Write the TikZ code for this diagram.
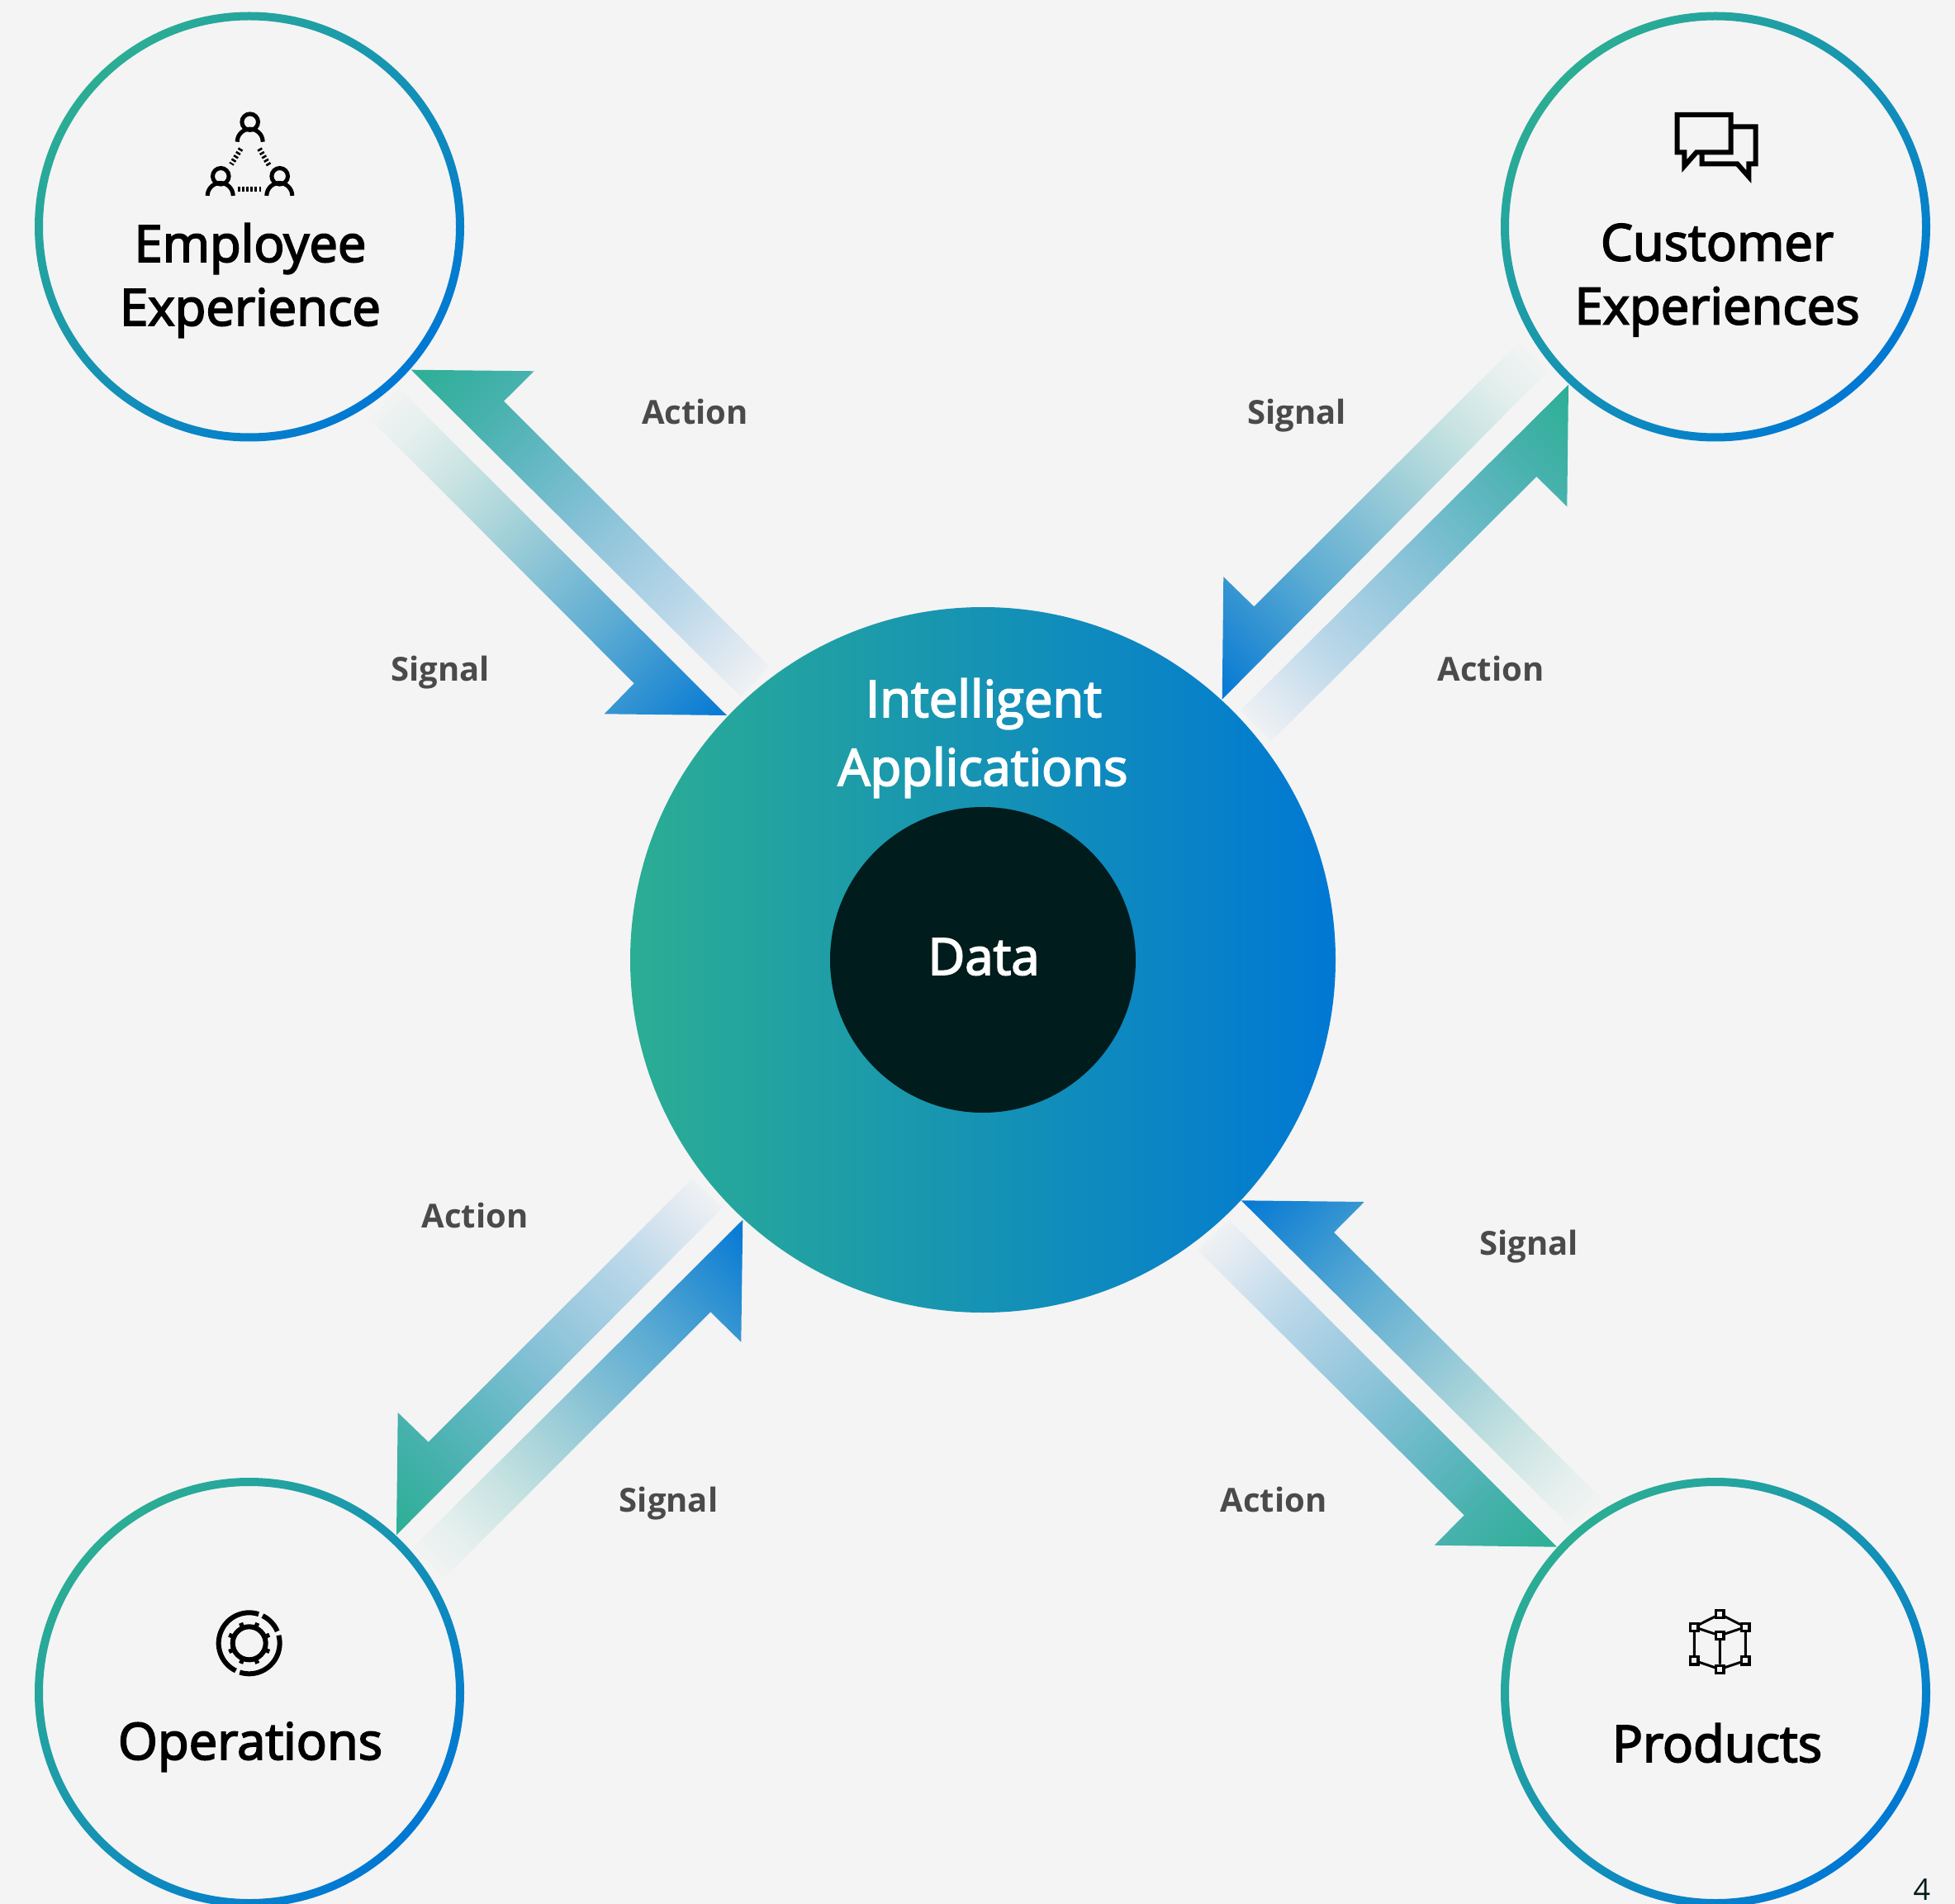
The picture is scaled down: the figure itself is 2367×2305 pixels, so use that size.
\documentclass[tikz,border=0pt]{standalone}
\usepackage{fontspec}
\setmainfont{Open Sans}
\font\headface="Open Sans:embolden=3" at 30.8pt
\newfontfamily\labelfont{Open Sans}
\newfontfamily\pagefont{Open Sans}
\usetikzlibrary{shadings}
\definecolor{bgc}{HTML}{F4F4F4}
\definecolor{gA}{HTML}{2BAD94}
\definecolor{bA}{HTML}{0078D4}
\definecolor{inkc}{HTML}{011C1C}
\definecolor{labc}{HTML}{4A4A4A}
\definecolor{sa}{HTML}{F4F4F4}\definecolor{sb}{HTML}{E6F0EE}\definecolor{sc}{HTML}{C8E3E2}
\definecolor{sd}{HTML}{A5D2D9}\definecolor{se}{HTML}{82BFD5}\definecolor{sf}{HTML}{5BABD3}
\definecolor{sg}{HTML}{3293D2}\definecolor{sh}{HTML}{0A7BD4}
\definecolor{aa}{HTML}{2FAF98}\definecolor{ab}{HTML}{45B1AB}\definecolor{ac}{HTML}{60B7C1}
\definecolor{ad}{HTML}{82C0D5}\definecolor{ae}{HTML}{9FCBE0}\definecolor{af}{HTML}{BBD8E9}
\definecolor{ag}{HTML}{DEE8F1}\definecolor{ah}{HTML}{F4F4F4}
\pgfdeclarehorizontalshading{sigshade}{100bp}{color(0bp)=(sa);color(16bp)=(sa);color(23bp)=(sb);color(33bp)=(sc);color(43bp)=(sd);color(53bp)=(se);color(64bp)=(sf);color(74bp)=(sg);color(84bp)=(sh);color(100bp)=(sh)}
\pgfdeclarehorizontalshading{actshade}{100bp}{color(0bp)=(aa);color(16bp)=(aa);color(26bp)=(ab);color(36bp)=(ac);color(47bp)=(ad);color(57bp)=(ae);color(67bp)=(af);color(77bp)=(ag);color(84bp)=(ah);color(100bp)=(ah)}
\tikzset{
  headtext/.style={anchor=base,inner sep=0pt,font=\headface,text=black},
  centertext/.style={headtext,text=white},
  flowtext/.style={anchor=base,inner sep=0pt,font=\fontsize{20}{20}\selectfont\labelfont\bfseries,text=labc},
  iconline/.style={draw=black,line width=2.5pt,line cap=butt,line join=miter,miter limit=10},
  heavyicon/.style={iconline,line width=3pt},
  dots/.style={draw=black,line width=3pt,dash pattern=on 1.3pt off 1.25pt},
  thinicon/.style={draw=black,line width=1.5pt},
  vertex/.style={draw=black,fill=bgc,line width=1.6pt,minimum size=4.6pt,inner sep=0pt,rectangle}
}
\newcommand{\ringat}[1]{\shade[even odd rule,left color=gA,right color=bA,shading angle=45] (#1) circle (260) (#1) circle (250);}
\begin{document}
\begin{tikzpicture}[x=0.5pt,y=-0.5pt]
\fill[bgc] (0,0) rectangle (2367,2305);
\useasboundingbox (0,0) rectangle (2367,2305);
% centre
\coordinate (mid) at (1190,1162);
\shade[left color=gA,right color=bA] (mid) circle (427);
\fill[inkc] (mid) circle (185);
% rings
\coordinate (tl) at (302,274.5);
\coordinate (tr) at (2077,274.5);
\coordinate (bl) at (302,2049);
\coordinate (br) at (2077,2049);
\ringat{tl}\ringat{tr}\ringat{bl}\ringat{br}
% arrows TL
\shade[shading=actshade,shading angle=-45] (497.7,447.7)--(646.7,449.3)--(610,485.7)--(931.7,806.7)--(896.7,843.3)--cycle;
\shade[shading=sigshade,shading angle=-45] (483,470)--(880,866)--(731.7,864.3)--(767.7,827.3)--(448,507)--cycle;
% arrows TR
\shade[shading=sigshade,shading angle=-135] (1479.7,846.7)--(1481.3,698.3)--(1518.3,734.3)--(1838.3,415)--(1873.3,450)--cycle;
\shade[shading=actshade,shading angle=-135] (1899,465.7)--(1897.3,613.3)--(1860.3,577)--(1538.3,898.3)--(1501.7,860)--cycle;
% arrows BL
\shade[shading=actshade,shading angle=45] (480,1858.3)--(481.7,1710)--(518.7,1745.7)--(838.3,1426.7)--(875,1461.7)--cycle;
\shade[shading=sigshade,shading angle=45] (899.3,1476.7)--(897.3,1624.7)--(860.3,1588.3)--(538.3,1910)--(500,1873.3)--cycle;
% arrows BR
\shade[shading=sigshade,shading angle=135] (1502.7,1453.3)--(1651.7,1455)--(1615,1492)--(1940,1815)--(1903.3,1850)--cycle;
\shade[shading=actshade,shading angle=135] (1885,1872.7)--(1736.7,1870.7)--(1772.7,1834.3)--(1450,1513.3)--(1488.3,1476.7)--cycle;
% main texts
\node[headtext] (t1) at (303,317) {Employee};
\node[headtext] (t2) at (303,394) {Experience};
\node[headtext] (t3) at (2079,315.5) {Customer};
\node[headtext] (t4) at (2079,392.5) {Experiences};
\node[headtext] (t5) at (303,2130) {Operations};
\node[headtext] (t6) at (2079,2133) {Products};
\node[centertext] (t7) at (1191,868) {Intelligent};
\node[centertext] (t8) at (1190,951) {Applications};
\node[centertext] (t9) at (1191,1180) {Data};
% flow labels
\node[flowtext] (f1) at (841.5,513.5) {Action};
\node[flowtext] (f2) at (533,824) {Signal};
\node[flowtext] (f3) at (1570.2,513.5) {Signal};
\node[flowtext] (f4) at (1805,824) {Action};
\node[flowtext] (f5) at (575,1486) {Action};
\node[flowtext] (f6) at (809.5,1830) {Signal};
\node[flowtext] (f7) at (1851,1519.5) {Signal};
\node[flowtext] (f8) at (1542,1830) {Action};
\node[anchor=base,inner sep=0pt,font=\fontsize{18}{18}\selectfont\pagefont,text=inkc] (pg) at (2327,2300) {4};
% employee icon
\draw[iconline] (302.7,147.7) circle (9.8);
\draw[iconline] (287.2,171.7) arc[start angle=180,end angle=360,radius=15.5];
\draw[iconline] (267.3,213.3) circle (9.8);
\draw[iconline] (251.2,237) arc[start angle=180,end angle=360,radius=15.5];
\draw[iconline] (338.7,213.3) circle (9.8);
\draw[iconline] (322.8,237) arc[start angle=180,end angle=360,radius=15.5];
\draw[dots] (288,228.7)--(317.3,228.7);
\draw[dots] (291.7,180)--(280,199);
\draw[dots] (314,180)--(325.7,200);
% chat icon
\draw[heavyicon] (2030.7,139)--(2095.7,139)--(2095.7,184.3)--(2054,184.3)--(2039.3,201)--(2039.3,184.3)--(2030.7,184.3)--cycle;
\draw[heavyicon] (2095.7,153.3)--(2125.7,153.3)--(2125.7,198.3)--(2117.3,198.3)--(2117.3,214)--(2103.3,198.3)--(2060.7,198.3)--(2060.7,184.3);
% operations icon
\coordinate (op) at (301.7,1989.3);
\draw[heavyicon] ([shift={(288:37)}]op) arc[start angle=288,end angle=116,radius=37];
\draw[heavyicon] ([shift={(108:37)}]op) arc[start angle=108,end angle=-15,radius=37];
\draw[heavyicon] ([shift={(-23:37)}]op) arc[start angle=-23,end angle=-64,radius=37];
\draw[heavyicon] (op) circle (20);
\foreach \a in {22.5,67.5,...,337.5}{\draw[draw=black,line width=2.6pt] ([shift={(\a:20)}]op)--([shift={(\a:26.5)}]op);}
% cube icon
\node[vertex] (c1) at (2082.3,1954) {};
\node[vertex] (c2) at (2051.3,1969.7) {};
\node[vertex] (c3) at (2113.3,1969.7) {};
\node[vertex] (c4) at (2082.3,1980) {};
\node[vertex] (c5) at (2051.3,2010.3) {};
\node[vertex] (c6) at (2113.3,2010.3) {};
\node[vertex] (c7) at (2082.3,2020.7) {};
\draw[thinicon] (c1)--(c2) (c1)--(c3) (c2)--(c4) (c3)--(c4) (c2)--(c5) (c3)--(c6) (c4)--(c7) (c5)--(c7) (c6)--(c7);
\end{tikzpicture}
\end{document}
